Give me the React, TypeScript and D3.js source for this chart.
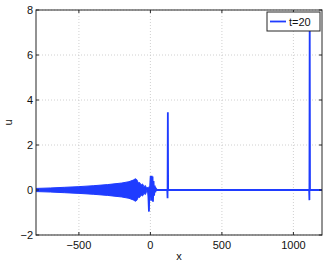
import React from "react";
import * as d3 from "d3";

// wave packet on the left, drawn as its envelope (x, half height)
const packetX = [-800, -700, -600, -500, -400, -300, -200, -150, -120, -105, -95, -85, -75, -65, -55, -45, -35, -28];
const packetAmp = [0.07, 0.09, 0.12, 0.15, 0.19, 0.24, 0.31, 0.37, 0.44, 0.5, 0.46, 0.32, 0.33, 0.22, 0.27, 0.15, 0.2, 0.1];

// rest of the solution u(x)
const lineX = [-28, -20, -14, -10, -7, -3, 2, 5, 9, 12, 15, 18, 22, 26, 30, 34, 40, 46, 118, 120, 122, 124, 126, 1110, 1112, 1114, 1116, 1200];
const lineU = [0, 0.12, -0.3, -0.96, 0.15, 0.05, 0.62, -0.48, 0.63, -0.45, 0.6, -0.52, 0.4, -0.25, 0.2, -0.1, 0.05, 0, 0, -0.37, 3.45, 0, 0, 0, -0.45, 7.9, 0, 0];

const xTicks = [-500, 0, 500, 1000];
const yTicks = [-2, 0, 2, 4, 6, 8];
const legendLabel = "t=20";

export default function App() {
  const width = 327;
  const height = 266;
  const margin = { top: 10, right: 5, bottom: 31, left: 36 };
  const plotW = width - margin.left - margin.right;
  const plotH = height - margin.top - margin.bottom;

  const x = d3.scaleLinear().domain([-800, 1200]).range([0, plotW]);
  const y = d3.scaleLinear().domain([-2, 8]).range([plotH, 0]);

  const blue = "#1f3cff";
  const axisColor = "#262626";
  const font = "'Liberation Sans', Arial, sans-serif";

  const area = d3
    .area<number>()
    .x((_, i) => x(packetX[i]))
    .y0((d) => y(-d))
    .y1((d) => y(d));

  const line = d3
    .line<number>()
    .x((_, i) => x(lineX[i]))
    .y((d) => y(d));

  return (
    <svg
      width={width}
      height={height}
      style={{ position: "absolute", left: 0, top: 0, background: "#fff" }}
    >
      <defs>
        <clipPath id="plot-clip">
          <rect x={0} y={0} width={plotW} height={plotH} />
        </clipPath>
      </defs>
      <g transform={`translate(${margin.left}, ${margin.top})`}>
        {/* grid */}
        {xTicks.map((t) => (
          <line
            key={`gx${t}`}
            x1={x(t)}
            x2={x(t)}
            y1={0}
            y2={plotH}
            stroke="#c4c4c4"
            strokeWidth={0.8}
            strokeDasharray="1,2"
          />
        ))}
        {yTicks.map((t) => (
          <line
            key={`gy${t}`}
            x1={0}
            x2={plotW}
            y1={y(t)}
            y2={y(t)}
            stroke="#c4c4c4"
            strokeWidth={0.8}
            strokeDasharray="1,2"
          />
        ))}

        {/* data */}
        <g clipPath="url(#plot-clip)">
          <path d={area(packetAmp) ?? ""} fill={blue} stroke={blue} strokeWidth={1} />
          <path d={line(lineU) ?? ""} fill="none" stroke={blue} strokeWidth={1.8} />
        </g>

        {/* box + ticks */}
        <rect x={0} y={0} width={plotW} height={plotH} fill="none" stroke={axisColor} strokeWidth={1} />
        {xTicks.map((t) => (
          <g key={`tx${t}`}>
            <line x1={x(t)} x2={x(t)} y1={plotH} y2={plotH - 3} stroke={axisColor} />
            <line x1={x(t)} x2={x(t)} y1={0} y2={3} stroke={axisColor} />
            <text
              x={x(t)}
              y={plotH + 13.5}
              textAnchor="middle"
              fontFamily={font}
              fontSize={11}
              fill="#111"
            >
              {t < 0 ? `\u2212${Math.abs(t)}` : t}
            </text>
          </g>
        ))}
        {yTicks.map((t) => (
          <g key={`ty${t}`}>
            <line x1={0} x2={3} y1={y(t)} y2={y(t)} stroke={axisColor} />
            <line x1={plotW} x2={plotW - 3} y1={y(t)} y2={y(t)} stroke={axisColor} />
            <text
              x={-3}
              y={y(t) + 4}
              textAnchor="end"
              fontFamily={font}
              fontSize={11}
              fill="#111"
            >
              {t < 0 ? `\u2212${Math.abs(t)}` : t}
            </text>
          </g>
        ))}

        {/* axis labels */}
        <text
          x={plotW / 2}
          y={plotH + 25}
          textAnchor="middle"
          fontFamily={font}
          fontSize={11}
          fill="#111"
        >
          x
        </text>
        <text
          transform={`translate(${12 - margin.left}, ${plotH / 2}) rotate(-90)`}
          textAnchor="middle"
          fontFamily={font}
          fontSize={11}
          fill="#111"
        >
          u
        </text>

        {/* legend */}
        <g transform={`translate(${plotW - 55}, 2)`}>
          <rect x={0} y={0} width={53} height={19} fill="#fff" stroke={axisColor} strokeWidth={1} />
          <line x1={3} x2={19} y1={9.5} y2={9.5} stroke={blue} strokeWidth={1.8} />
          <text x={22} y={14} fontFamily={font} fontSize={11} fill="#111">
            {legendLabel}
          </text>
        </g>
      </g>
    </svg>
  );
}
